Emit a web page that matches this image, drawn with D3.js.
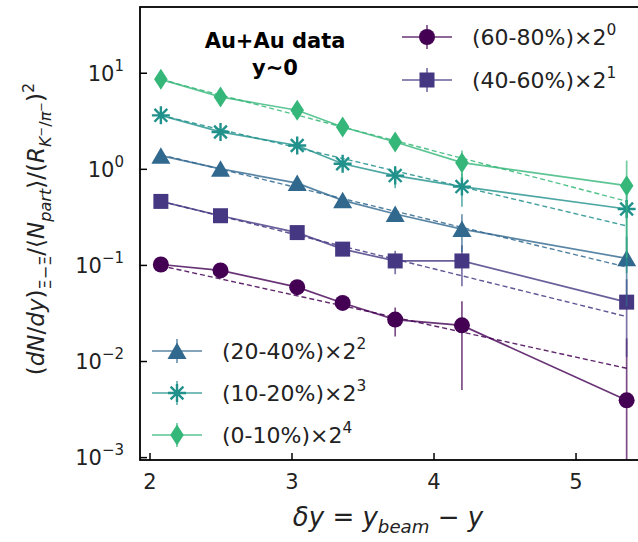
<!DOCTYPE html>
<html>
<head>
<meta charset="utf-8">
<script src="https://cdn.jsdelivr.net/npm/d3@7"></script>
<style>
  body { margin: 0; background: #fff; }
  svg { display: block; font-family: "DejaVu Sans", sans-serif; }
</style>
</head>
<body>
<svg id="chart" width="638" height="542"></svg>
<script>
// delta y = y_beam - y for each beam energy
const deltaY = [2.08, 2.50, 3.04, 3.36, 3.73, 4.20, 5.36];

// scaled yields, one array per centrality
const yield6080 = [0.101, 0.0877, 0.0587, 0.0402, 0.027, 0.0235, 0.0039];
const err6080   = [0.004, 0.004, 0.003, 0.003, 0.009, 0.0185, 0.0133];
const yield4060 = [0.458, 0.325, 0.217, 0.146, 0.110, 0.110, 0.041];
const err4060   = [0.02, 0.015, 0.012, 0.012, 0.03, 0.05, 0.03];
const yield2040 = [1.37, 1.00, 0.71, 0.47, 0.339, 0.236, 0.117];
const err2040   = [0.06, 0.05, 0.04, 0.04, 0.04, 0.10, 0.08];
const yield1020 = [3.6, 2.42, 1.75, 1.13, 0.85, 0.653, 0.382];
const err1020   = [0.15, 0.12, 0.10, 0.10, 0.22, 0.25, 0.30];
const yield010  = [8.53, 5.6, 4.07, 2.72, 1.9, 1.16, 0.668];
const err010    = [0.35, 0.30, 0.30, 0.20, 0.30, 0.39, 0.55];

// dashed fit lines (ends)
const fitX    = [2.08, 5.36];
const fit6080 = [0.098, 0.0084];
const fit4060 = [0.46, 0.029];
const fit2040 = [1.40, 0.095];
const fit1020 = [3.6, 0.255];
const fit010  = [8.5, 0.46];

const centLabels = ["(60-80%)", "(40-60%)", "(20-40%)", "(10-20%)", "(0-10%)"];
const powers = ["0", "1", "2", "3", "4"];
const xTicks = [2, 3, 4, 5];
const yTicks = [1e-3, 1e-2, 1e-1, 1e0, 1e1];
const yTickExp = ["\u22123", "\u22122", "\u22121", "0", "1"];

const colors = ["#440154", "#453781", "#31688e", "#21918c", "#35b779"];
const shapes = ["circle", "square", "triangle", "star", "diamond"];

const series = [
  {vals: yield6080, errs: err6080, fit: fit6080},
  {vals: yield4060, errs: err4060, fit: fit4060},
  {vals: yield2040, errs: err2040, fit: fit2040},
  {vals: yield1020, errs: err1020, fit: fit1020},
  {vals: yield010,  errs: err010,  fit: fit010}
].map((s, i) => ({...s, label: centLabels[i], pow: powers[i], color: colors[i], shape: shapes[i]}));

const L = 140, T = 7, R = 640, B = 460;
const svg = d3.select("#chart");

const x = d3.scaleLinear().domain([1.933, 5.454]).range([L, R]);
const y = d3.scaleLog().domain([Math.pow(10, -3.03), Math.pow(10, 1.684)]).range([B, T]);

svg.append("clipPath").attr("id", "plotclip")
  .append("rect").attr("x", L).attr("y", T).attr("width", R - L).attr("height", B - T);

// marker shapes
function markerPath(shape) {
  if (shape === "circle") return d3.symbol(d3.symbolCircle, Math.PI * 8 * 8)();
  if (shape === "square") return "M-7.5,-7.5H7.5V7.5H-7.5Z";
  if (shape === "triangle") return "M0,-8.5L9.5,8L-9.5,8Z";
  if (shape === "diamond") return "M0,-10.5L6.8,0L0,10.5L-6.8,0Z";
  // asterisk
  const r = 9, a = 6.4;
  return `M0,${-r}V${r}M${-a},${-a}L${a},${a}M${-a},${a}L${a},${-a}M${-r},0H${r}`;
}
function drawMarker(g, s, cx, cy) {
  const p = g.append("path").attr("d", markerPath(s.shape))
    .attr("transform", `translate(${cx},${cy})`);
  if (s.shape === "star") {
    p.attr("fill", "none").attr("stroke", s.color).attr("stroke-width", 2.4);
  } else {
    p.attr("fill", s.color);
  }
}

const plot = svg.append("g").attr("clip-path", "url(#plotclip)");

// dashed fits
const line = d3.line().x(d => x(d[0])).y(d => y(d[1]));
series.forEach(s => {
  plot.append("path")
    .attr("d", line(fitX.map((v, i) => [v, s.fit[i]])))
    .attr("fill", "none").attr("stroke", s.color).attr("stroke-opacity", 0.85)
    .attr("stroke-width", 1.4).attr("stroke-dasharray", "5,3");
});

// data
series.forEach(s => {
  const g = plot.append("g");
  g.append("path")
    .attr("d", line(deltaY.map((v, i) => [v, s.vals[i]])))
    .attr("fill", "none").attr("stroke", s.color).attr("stroke-opacity", 0.8)
    .attr("stroke-width", 1.7);
  deltaY.forEach((v, i) => {
    const lo = s.vals[i] - s.errs[i];
    g.append("line")
      .attr("x1", x(v)).attr("x2", x(v))
      .attr("y1", y(s.vals[i] + s.errs[i]))
      .attr("y2", lo > 0 ? y(lo) : B + 10)
      .attr("stroke", s.color).attr("stroke-opacity", 0.7).attr("stroke-width", 1.7);
  });
  deltaY.forEach((v, i) => drawMarker(g, s, x(v), y(s.vals[i])));
});

// axes
const xMinor = d3.range(2.0, 5.45, 0.2).filter(v => Math.abs(v - Math.round(v)) > 0.01);
const yMinor = [];
for (let k = -4; k <= 1; k++) for (let m = 2; m <= 9; m++) {
  const v = m * Math.pow(10, k);
  if (v > y.domain()[0] && v < y.domain()[1]) yMinor.push(v);
}

const gx = svg.append("g").attr("transform", `translate(0,${B})`);
gx.call(d3.axisBottom(x).tickValues(xMinor).tickSizeInner(-4).tickSizeOuter(0).tickFormat(""));
gx.call(d3.axisBottom(x).tickValues(xTicks).tickSizeInner(-7).tickSizeOuter(0).tickFormat(d3.format("d")).tickPadding(14));
gx.selectAll(".tick line").attr("stroke-width", 1.5);
gx.selectAll(".tick text").attr("font-size", 21).attr("fill", "#222").attr("font-family", "DejaVu Sans");
gx.selectAll(".domain").remove();

const gy = svg.append("g").attr("transform", `translate(${L},0)`);
gy.call(d3.axisLeft(y).tickValues(yMinor).tickSizeInner(-4).tickSizeOuter(0).tickFormat(""));
gy.call(d3.axisLeft(y).tickValues(yTicks).tickSizeInner(-7).tickSizeOuter(0).tickFormat("").tickPadding(14));
gy.selectAll(".tick line").attr("stroke-width", 1.5);
gy.selectAll(".domain").remove();
yTicks.forEach((v, i) => {
  const t = svg.append("text").attr("x", 124).attr("y", y(v) + 8)
    .attr("text-anchor", "end").attr("font-size", 21).attr("fill", "#222");
  t.append("tspan").text("10");
  t.append("tspan").text(yTickExp[i]).attr("font-size", 15).attr("dy", -10);
});

// frame
svg.append("rect").attr("x", L).attr("y", T).attr("width", R - L).attr("height", B - T)
  .attr("fill", "none").attr("stroke", "#000").attr("stroke-width", 1.8);

// mathtext-like helper
function mathText(t, base, parts) {
  let shift = 0;
  parts.forEach(p => {
    const sh = p.sh || 0;
    const ts = t.append("tspan").text(p.t).attr("font-size", base * (p.sc || 1));
    if (sh !== shift) ts.attr("dy", (sh - shift) * base);
    if (p.it) ts.attr("font-style", "italic");
    shift = sh;
  });
}

// annotation
svg.append("text").attr("x", 275).attr("y", 48).attr("text-anchor", "middle")
  .attr("font-size", 21).attr("font-weight", "bold").text("Au+Au data");
svg.append("text").attr("x", 275).attr("y", 75).attr("text-anchor", "middle")
  .attr("font-size", 21).attr("font-weight", "bold").text("y~0");

// legends
function legendRow(s, lx, cy) {
  const g = svg.append("g");
  g.append("line").attr("x1", lx).attr("x2", lx + 50).attr("y1", cy).attr("y2", cy)
    .attr("stroke", s.color).attr("stroke-opacity", 0.8).attr("stroke-width", 1.7);
  g.append("line").attr("x1", lx + 25).attr("x2", lx + 25).attr("y1", cy - 12).attr("y2", cy + 12)
    .attr("stroke", s.color).attr("stroke-opacity", 0.7).attr("stroke-width", 1.7);
  drawMarker(g, s, lx + 25, cy);
  const t = g.append("text").attr("x", lx + 70).attr("y", cy + 8).attr("font-size", 22).attr("fill", "#222");
  mathText(t, 22, [{t: s.label + "\u00d72"}, {t: s.pow, sh: -0.45, sc: 0.7}]);
}
legendRow(series[0], 402, 37);
legendRow(series[1], 402, 80);
legendRow(series[2], 152, 351);
legendRow(series[3], 152, 393);
legendRow(series[4], 152, 435);

// axis labels
const xl = svg.append("text").attr("x", 388).attr("y", 526).attr("text-anchor", "middle").attr("fill", "#222");
mathText(xl, 26, [
  {t: "\u03b4y", it: true}, {t: " = "}, {t: "y", it: true},
  {t: "beam", it: true, sh: 0.25, sc: 0.7}, {t: " \u2212 "}, {t: "y", it: true}
]);

const yl = svg.append("text").attr("transform", "translate(44,229) rotate(-90)")
  .attr("text-anchor", "middle").attr("fill", "#222");
mathText(yl, 23, [
  {t: "("}, {t: "dN", it: true}, {t: "/"}, {t: "dy", it: true}, {t: ")"},
  {t: "\u039e\u2212\u039e", sh: 0.3, sc: 0.7},
  {t: "/\u27e8"}, {t: "N", it: true}, {t: "part", it: true, sh: 0.3, sc: 0.7},
  {t: "\u27e9/("}, {t: "R", it: true}, {t: "K", it: true, sh: 0.3, sc: 0.7},
  {t: "\u2212", sh: 0.05, sc: 0.5}, {t: "/", sh: 0.3, sc: 0.7}, {t: "\u03c0", it: true, sh: 0.3, sc: 0.7},
  {t: "\u2212", sh: 0.05, sc: 0.5}, {t: ")"}, {t: "2", sh: -0.45, sc: 0.7}
]);
</script>
</body>
</html>
